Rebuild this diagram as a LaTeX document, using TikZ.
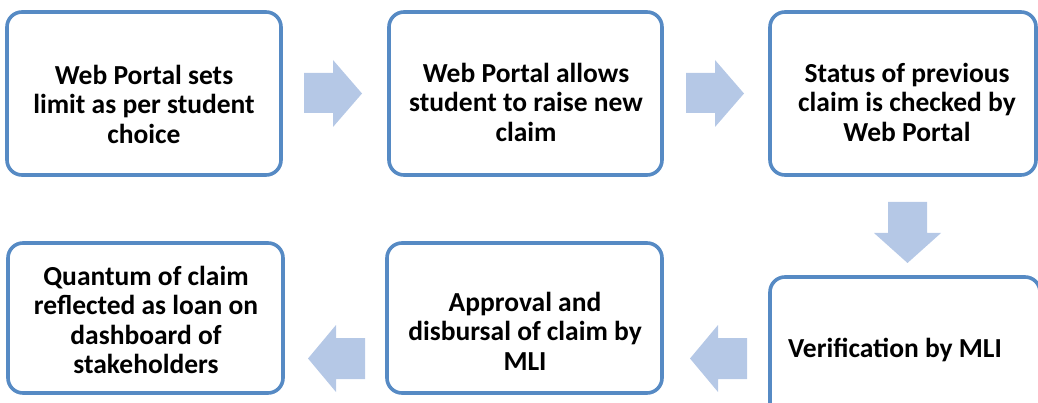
\documentclass[tikz,border=0pt]{standalone}
\usepackage{fontspec}
\setmainfont{Carlito}
\definecolor{boxblue}{RGB}{86,138,196}
\definecolor{arrowblue}{RGB}{181,200,230}
\tikzset{
  stepbox/.style={draw=boxblue, line width=3.6pt, rounded corners=15pt, fill=white},
  steptext/.style={font=\fontsize{27.5}{29.5}\selectfont\bfseries, align=center, inner sep=0pt},
  fatarrow/.style={fill=arrowblue, draw=none},
}
\begin{document}
\begin{tikzpicture}[x=1pt,y=-1pt]
\useasboundingbox (0,0) rectangle (1038,403);
\clip (0,0) rectangle (1038,403);
% boxes
\draw[stepbox] (7,12) rectangle (281,175);
\draw[stepbox] (389,12) rectangle (662,175);
\draw[stepbox] (770,12) rectangle (1036,175);
\draw[stepbox] (770,277) rectangle (1040,430);
\draw[stepbox] (387,243) rectangle (662,393);
\draw[stepbox] (8,243) rectangle (283,393);
% texts
\node[steptext] (t1) at (144,104) {Web Portal sets\\limit as per student\\choice};
\node[steptext] (t2) at (526,102) {Web Portal allows\\student to raise new\\claim};
\node[steptext] (t3) at (907,102) {Status of previous\\claim is checked by\\Web Portal};
\node[steptext] (t4) at (895,350) {Verification by MLI};
\node[steptext] (t5) at (525,331) {Approval and\\disbursal of claim by\\MLI};
\node[steptext] (t6) at (146,320) {Quantum of claim\\reflected as loan on\\dashboard of\\stakeholders};
% arrows right
\fill[fatarrow] (304,73) -- (333,73) -- (333,60) -- (362,93.5) -- (333,127) -- (333,113) -- (304,113) -- cycle;
\fill[fatarrow] (686,73) -- (715,73) -- (715,60) -- (744,93.5) -- (715,127) -- (715,113) -- (686,113) -- cycle;
% arrow down
\fill[fatarrow] (888,202) -- (927,202) -- (927,233) -- (941,233) -- (907.5,263) -- (874,233) -- (888,233) -- cycle;
% arrows left
\fill[fatarrow] (747,338) -- (718,338) -- (718,325) -- (690,358.5) -- (718,392) -- (718,379) -- (747,379) -- cycle;
\fill[fatarrow] (365,338) -- (336,338) -- (336,325) -- (308,358.5) -- (336,392) -- (336,379) -- (365,379) -- cycle;
\end{tikzpicture}
\end{document}
